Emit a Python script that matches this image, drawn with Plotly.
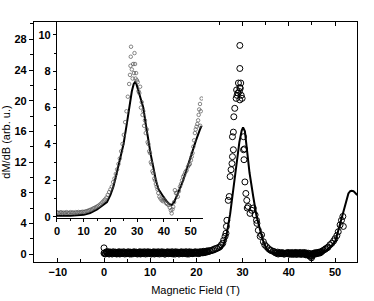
import plotly.graph_objects as go

# ---- main panel: experimental points (open circles) ----
main_x = [0.0, 0.0, 0.25, 0.5, 0.75, 1.0, 1.25, 1.5, 1.75, 2.0, 2.25, 2.5, 2.75, 3.0, 3.25, 3.5,
          3.75, 4.0, 4.25, 4.5, 4.75, 5.0, 5.25, 5.5, 5.75, 6.0, 6.25, 6.5, 6.75, 7.0, 7.25, 7.5,
          7.75, 8.0, 8.25, 8.5, 8.75, 9.0, 9.25, 9.5, 9.75, 10.0, 10.25, 10.5, 10.75, 11.0, 11.25,
          11.5, 11.75, 12.0, 12.25, 12.5, 12.75, 13.0, 13.25, 13.5, 13.75, 14.0, 14.25, 14.5,
          14.75, 15.0, 15.25, 15.5, 15.75, 16.0, 16.25, 16.5, 16.75, 17.0, 17.25, 17.5, 17.75,
          18.0, 18.25, 18.5, 18.75, 19.0, 19.25, 19.5, 19.75, 20.0, 20.25, 20.5, 20.75, 21.0,
          21.25, 21.5, 21.75, 22.0, 22.25, 22.5, 22.75,
          23.0, 23.4, 23.7, 24.1, 24.4, 24.8, 25.1, 25.4, 25.7, 25.9, 26.2, 26.4, 26.5, 26.6,
          26.9, 27.1, 27.3, 27.5, 27.7, 27.8, 27.8, 28.0, 28.0, 28.1, 28.3, 28.6, 28.8, 29.0,
          29.3, 29.4, 29.5, 29.7, 29.9, 28.7, 29.1, 29.4, 29.6, 29.4, 29.4,
          30.2, 30.2, 30.3, 30.4, 30.5, 30.7, 30.9, 31.0, 31.2, 31.6, 32.0, 32.3, 32.7, 33.0,
          33.1, 33.4, 33.8, 34.1, 34.5, 34.8, 35.2, 35.6, 35.9, 36.2, 36.6, 36.9, 37.2, 37.6,
          37.9, 38.2, 38.5, 38.8, 39.1, 39.5, 39.75, 40.0, 40.25, 40.5, 40.75, 41.0, 41.25,
          41.5, 41.75, 42.0, 42.25, 42.5, 42.75, 43.0, 43.25, 43.5, 43.75, 44.0, 44.25, 44.5,
          44.75, 44.9, 45.1, 45.3, 45.55, 45.8, 46.05, 46.3, 46.55, 46.8, 47.0,
          47.2, 47.5, 47.8, 48.0, 48.3, 48.5, 48.9, 49.3, 49.7, 50.0, 50.4, 50.7, 51.1, 51.4,
          51.7, 51.8]
main_y = [0.8, 0.1, 0.0, 0.25, 0.1, 0.3, 0.05, 0.2, 0.0, 0.3, 0.1, 0.25, 0.0, 0.2, 0.3, 0.05,
          0.25, 0.1, 0.3, 0.0, 0.2, 0.1, 0.3, 0.05, 0.25, 0.0, 0.2, 0.3, 0.1, 0.25, 0.0, 0.2,
          0.3, 0.05, 0.25, 0.1, 0.3, 0.0, 0.2, 0.3, 0.1, 0.25, 0.0, 0.2, 0.3, 0.05, 0.25,
          0.1, 0.3, 0.0, 0.2, 0.3, 0.1, 0.25, 0.0, 0.2, 0.3, 0.05, 0.25, 0.1,
          0.3, 0.0, 0.2, 0.3, 0.1, 0.25, 0.0, 0.2, 0.3, 0.05, 0.25, 0.1, 0.3,
          0.0, 0.2, 0.3, 0.1, 0.25, 0.05, 0.2, 0.3, 0.1, 0.25, 0.05, 0.3, 0.15,
          0.25, 0.35, 0.2, 0.3, 0.4, 0.3, 0.45,
          0.4, 0.5, 0.6, 0.7, 0.75, 0.85, 0.95, 1.2, 1.4, 1.8, 2.3, 2.7, 3.6, 4.4,
          7.0, 7.5, 10.1, 11.0, 11.8, 12.7, 15.3, 13.6, 15.9, 17.9, 19.0, 20.3, 20.7, 21.0,
          21.2, 20.1, 21.6, 20.7, 20.3, 21.4, 22.3, 21.7, 22.3, 24.2, 27.2,
          15.3, 13.6, 12.3, 13.7, 9.4, 7.9, 7.0, 6.0, 6.2, 5.3, 5.7, 6.0, 5.1, 4.4,
          4.0, 3.1, 2.3, 2.5, 1.6, 1.2, 0.95, 0.7, 0.55, 0.45, 0.35, 0.3, 0.2, 0.25,
          0.1, 0.2, 0.05, 0.15, 0.0, 0.1, 0.2, 0.0, 0.15, 0.05, 0.2, 0.0, 0.1,
          0.2, 0.0, 0.15, 0.05, 0.2, 0.0, 0.1, 0.2, 0.0, 0.15, -0.1, 0.1, -0.2,
          0.05, -0.5, -0.2, 0.05, 0.15, 0.0, 0.2, 0.1, 0.25, 0.15, 0.3,
          0.35, 0.5, 0.6, 0.7, 0.8, 0.9, 1.2, 1.4, 1.7, 2.0, 2.4, 2.9, 3.8, 4.4,
          4.9, 3.6]

# second, interleaved set of points of the dense flat stretches
base2_x = [0.1, 0.4, 0.6, 0.9, 1.1, 1.4, 1.6, 1.9, 2.1, 2.4, 2.6, 2.9, 3.1, 3.4, 3.6, 3.9, 4.1,
           4.4, 4.6, 4.9, 5.1, 5.4, 5.6, 5.9, 6.1, 6.4, 6.6, 6.9, 7.1, 7.4, 7.6, 7.9, 8.1, 8.4,
           8.6, 8.9, 9.1, 9.4, 9.6, 9.9, 10.1, 10.4, 10.6, 10.9, 11.1, 11.4, 11.6, 11.9, 12.1,
           12.4, 12.6, 12.9, 13.1, 13.4, 13.6, 13.9, 14.1, 14.4, 14.6, 14.9, 15.1, 15.4, 15.6,
           15.9, 16.1, 16.4, 16.6, 16.9, 17.1, 17.4, 17.6, 17.9, 18.1, 18.4, 18.6, 18.9, 19.1,
           19.4, 19.6, 19.9, 20.1, 20.4, 20.6, 20.9, 21.1, 21.4, 21.6, 21.9, 22.1, 22.4,
           37.1, 37.4, 37.7, 38.0, 38.3, 38.6, 38.9, 39.3, 39.6, 39.9, 40.1, 40.4, 40.6, 40.9,
           41.1, 41.4, 41.6, 41.9, 42.1, 42.4, 42.6, 42.9, 43.1, 43.4, 43.6, 43.9, 44.1, 44.4,
           44.6, 45.0, 45.2, 45.4, 45.7, 45.9, 46.2, 46.4, 46.7, 46.9]
base2_y = [0.15, 0.05, 0.3, 0.15, 0.0, 0.25, 0.15, 0.05, 0.2, 0.15, 0.05, 0.2, 0.1, 0.0, 0.2,
           0.15, 0.05, 0.2, 0.15, 0.05, 0.2, 0.15, 0.0, 0.2, 0.15, 0.05, 0.2, 0.15, 0.05, 0.2,
           0.15, 0.0, 0.2, 0.15, 0.05, 0.2, 0.15, 0.05, 0.2, 0.15, 0.05, 0.2, 0.15, 0.0, 0.2,
           0.15, 0.05, 0.2, 0.15, 0.05, 0.2, 0.15, 0.0, 0.2, 0.15, 0.05, 0.2, 0.15, 0.05, 0.2,
           0.15, 0.0, 0.2, 0.15, 0.05, 0.2, 0.15, 0.05, 0.2, 0.15, 0.05, 0.2, 0.15, 0.0, 0.2,
           0.15, 0.05, 0.2, 0.15, 0.1, 0.2, 0.15, 0.1, 0.25, 0.2, 0.15, 0.3, 0.2, 0.35, 0.3,
           0.15, 0.1, 0.0, 0.1, 0.05, 0.15, 0.0, 0.1, 0.05, 0.15, 0.0, 0.1, -0.05, 0.1,
           0.0, 0.15, -0.05, 0.1, 0.0, 0.15, -0.05, 0.1, 0.0, 0.1, -0.1, 0.05, -0.15, 0.0,
           -0.3, -0.3, -0.1, 0.0, 0.1, 0.05, 0.15, 0.1, 0.2, 0.25]

# ---- main panel: fit curve ----
fit_x = [0.0, 5.0, 10.0, 15.0, 20.0, 22.0, 23.0, 24.0, 25.0, 25.8, 26.5, 27.3, 28.0, 28.7, 29.3,
         29.8, 30.1, 30.5, 30.9, 31.5, 32.3, 33.0, 33.8, 34.5, 35.2, 36.0, 37.0, 38.0, 40.0, 42.0,
         44.0, 46.0, 47.0, 48.0, 49.0, 49.5, 50.0, 50.5, 51.1, 51.7, 52.2, 52.6, 52.9, 53.3, 53.6,
         54.0, 54.4, 54.8]
fit_y = [0.0, 0.0, 0.0, 0.0, 0.02, 0.05, 0.1, 0.25, 0.55, 1.1, 2.4, 5.2, 8.5, 11.8, 14.6,
         16.1, 16.5, 16.0, 13.6, 10.6, 7.5, 5.0, 3.1, 1.6, 0.6, 0.25, 0.1, 0.05, 0.0, 0.0,
         0.0, 0.05, 0.2, 0.45, 0.9, 1.2, 1.6, 2.6, 4.0, 5.3, 6.2, 7.2, 7.9, 8.2, 8.25,
         8.2, 8.0, 7.7]

# ---- inset: experimental points ----
ins_x = [0.0, 0.5, 1.0, 1.5, 2.0, 2.5, 3.0, 3.5, 4.0, 4.5, 5.0, 5.5, 6.0, 6.5, 7.0, 7.5, 8.0, 8.5,
         9.0, 9.5, 10.0, 10.5, 11.0, 11.5, 12.0, 12.5, 13.0, 13.5, 14.0, 14.5, 15.0, 15.5, 16.0,
         16.5, 17.0, 17.5, 18.0, 18.5, 19.0, 19.5, 20.0, 20.5, 21.0, 21.5, 22.0, 22.5, 23.0,
         23.5, 24.0, 24.5, 25.0, 25.5, 26.0, 26.5, 27.0, 27.3, 27.5, 27.6, 27.7, 28.0, 28.3,
         28.5, 28.8, 29.0, 29.2, 29.4, 29.6, 29.9, 30.2, 30.5, 30.8, 31.1, 31.4, 31.7, 32.0,
         32.3, 32.6, 32.9, 33.2, 33.6, 33.9, 34.2, 34.5, 34.8, 35.1, 35.4, 35.7, 36.0, 36.4,
         36.7, 37.0, 37.3, 37.6, 37.9, 38.3, 38.7, 39.2, 39.7, 40.0, 40.4, 40.8, 41.2, 41.7,
         42.2, 42.6, 42.9, 43.2, 43.5, 43.8, 44.1, 44.5, 44.8, 45.2, 45.6, 46.0, 46.4, 46.8,
         47.2, 47.6, 48.0, 48.5, 49.0, 49.4, 49.7, 50.1, 50.4, 50.7, 51.0, 51.3, 51.6, 51.9,
         52.2, 52.5, 52.8, 53.0, 53.2, 53.5, 53.6, 53.8, 54.1]
ins_y = [0.25, 0.2, 0.22, 0.25, 0.2, 0.23, 0.2, 0.25, 0.22, 0.2, 0.25, 0.22, 0.24, 0.2, 0.25,
         0.22, 0.26, 0.24, 0.25, 0.27, 0.26, 0.28, 0.3, 0.32, 0.35, 0.38, 0.4, 0.45, 0.48, 0.52,
         0.56, 0.6, 0.66, 0.72, 0.8, 0.88, 0.95, 1.05, 1.2, 1.35, 1.5, 1.65, 1.9, 2.1, 2.35,
         2.6, 2.9, 3.2, 3.6, 4.0, 4.5, 5.2, 5.8, 6.6, 7.3, 7.8, 8.3, 8.8, 9.35, 8.1, 7.6,
         8.4, 7.9, 9.0, 8.4, 7.6, 7.9, 7.5, 7.4, 6.9, 6.8, 7.15, 6.0, 6.3, 5.6,
         5.8, 5.0, 5.3, 4.6, 4.8, 4.1, 4.0, 3.6, 3.5, 3.0, 2.9, 2.5, 2.4, 2.1,
         2.0, 1.8, 1.65, 1.5, 1.3, 1.1, 1.0, 0.9, 0.85, 0.95, 0.9, 0.75, 0.7, 0.64,
         0.5, 0.35, 0.18, 0.4, 0.54, 0.8, 1.46, 1.3, 1.28, 1.1, 1.4, 1.65, 1.8, 2.0,
         2.2, 2.3, 2.45, 2.55, 2.75, 2.85, 2.9, 3.1, 3.3, 3.5, 3.85, 4.2, 4.6, 4.8,
         4.95, 5.1, 5.3, 5.6, 5.9, 6.2, 5.0, 5.8, 6.5]

# ---- inset: fit curve ----
ins_fit_x = [0.0, 5.0, 10.0, 12.4, 15.0, 17.0, 18.7, 20.0, 21.1, 22.5, 23.7, 24.9, 26.0, 27.0,
             28.0, 28.7, 29.2, 29.7, 30.3, 31.3, 32.3, 33.2, 34.2, 35.1, 36.0, 37.0, 38.0, 39.0,
             39.8, 41.0, 42.0, 42.9, 43.8, 45.0, 46.0, 47.2, 48.5, 50.0, 51.0, 52.0, 53.5, 54.1]
ins_fit_y = [0.05, 0.05, 0.1, 0.2, 0.4, 0.6, 0.8, 1.2, 1.65, 2.5, 3.3, 4.0, 5.0, 6.0,
             6.9, 7.3, 7.4, 7.3, 7.0, 6.6, 6.0, 5.1, 4.1, 3.4, 2.75, 2.0, 1.5, 1.25,
             1.1, 0.85, 0.7, 0.64, 0.8, 1.2, 1.55, 2.0, 2.6, 3.3, 3.8, 4.2, 4.8, 5.0]

main_xticks = [-10, 0, 10, 20, 30, 40, 50]
main_yticks = [0, 4, 8, 12, 16, 20, 24, 28]
ins_xticks = [0, 10, 20, 30, 40, 50]
ins_yticks = [0, 2, 4, 6, 8, 10]

FONT = "Arial, Liberation Sans, sans-serif"
bold = dict(family=FONT, size=11, color="black", weight="bold")
main_marker = dict(symbol="circle-open", size=6, color="black", line=dict(width=1, color="black"))

fig = go.Figure()
fig.add_trace(go.Scatter(x=fit_x, y=fit_y, mode="lines",
                         line=dict(color="black", width=2), xaxis="x", yaxis="y"))
fig.add_trace(go.Scatter(x=main_x, y=main_y, mode="markers", marker=main_marker,
                         xaxis="x", yaxis="y"))
fig.add_trace(go.Scatter(x=base2_x, y=base2_y, mode="markers", marker=main_marker,
                         xaxis="x", yaxis="y"))
fig.add_trace(go.Scatter(x=ins_fit_x, y=ins_fit_y, mode="lines",
                         line=dict(color="black", width=2), xaxis="x2", yaxis="y2"))
fig.add_trace(go.Scatter(x=ins_x, y=ins_y, mode="markers",
                         marker=dict(symbol="circle-open", size=3.5, color="#555555",
                                     line=dict(width=0.7, color="#555555")),
                         xaxis="x2", yaxis="y2"))

fig.update_layout(
    width=374, height=301,
    margin=dict(l=34, r=17, t=22, b=39, autoexpand=False),
    paper_bgcolor="white", plot_bgcolor="white",
    showlegend=False,
    font=dict(family=FONT, size=11, color="black"),
    xaxis=dict(domain=[0, 1], range=[-15.15, 54.76], tickvals=main_xticks,
               ticks="inside", ticklen=4, tickwidth=1, tickcolor="black",
               minor=dict(ticks="inside", dtick=5, tick0=0, ticklen=2.5, tickwidth=1, tickcolor="black"),
               showline=True, linecolor="black", linewidth=1.3, mirror="ticks",
               showgrid=False, zeroline=False, tickfont=bold,
               title=dict(text="Magnetic Field (T)", font=dict(family=FONT, size=11), standoff=8),
               automargin=False),
    yaxis=dict(domain=[0, 1], range=[-1.04, 30.26], tickvals=main_yticks,
               ticks="outside", ticklen=4, tickwidth=1, tickcolor="black",
               minor=dict(ticks="outside", dtick=2, tick0=0, ticklen=2.5, tickwidth=1, tickcolor="black"),
               showline=True, linecolor="black", linewidth=1.3, mirror=True,
               showgrid=False, zeroline=False, tickfont=bold,
               title=dict(text="dM/dB (arb. u.)", font=dict(family=FONT, size=11), standoff=1),
               automargin=False),
    yaxis3=dict(overlaying="y", side="right", range=[-1.04, 30.26], tickvals=main_yticks,
                ticks="inside", ticklen=4, tickwidth=1, tickcolor="black",
                minor=dict(ticks="inside", dtick=2, tick0=0, ticklen=2.5, tickwidth=1, tickcolor="black"),
                showticklabels=False, showline=False, showgrid=False, zeroline=False),
    xaxis2=dict(domain=[0.0712, 0.523], anchor="y2", range=[0, 54.6], tickvals=ins_xticks,
                ticks="outside", ticklen=3, tickwidth=1, tickcolor="black",
                minor=dict(ticks="outside", dtick=5, tick0=0, ticklen=2, tickwidth=1, tickcolor="black"),
                showline=True, linecolor="black", linewidth=1.3, mirror=False,
                showgrid=False, zeroline=False, tickfont=bold, automargin=False),
    yaxis2=dict(domain=[0.185, 1], anchor="x2", range=[-0.05, 10.71], tickvals=ins_yticks,
                ticks="outside", ticklen=3, tickwidth=1, tickcolor="black",
                minor=dict(ticks="outside", dtick=1, tick0=0, ticklen=2, tickwidth=1, tickcolor="black"),
                showline=True, linecolor="black", linewidth=1.3, mirror=False,
                showgrid=False, zeroline=False, tickfont=bold, automargin=False),
)

fig.write_html("out.html", config={"displayModeBar": False},
               post_script="document.body.style.margin='0';document.body.style.padding='0';")
